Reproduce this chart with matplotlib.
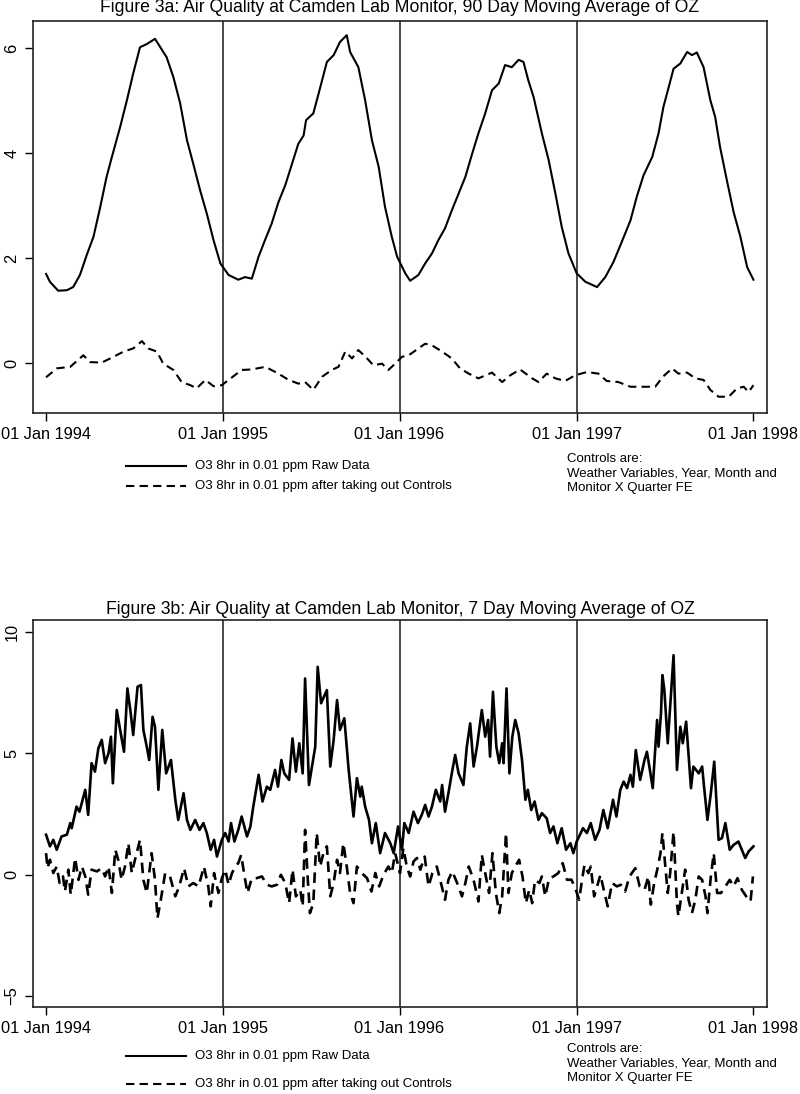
import matplotlib
matplotlib.use("Agg")
import matplotlib.pyplot as plt
import matplotlib.dates as mdates
import pandas as pd
import numpy as np

plt.rcParams['font.family'] = ['Liberation Sans', 'DejaVu Sans']

# ---------------- data (days since 01 Jan 1994) ----------------
# Panel a: 90 day moving average
a_raw_day = [0, 8, 25, 43, 56, 70, 84, 98, 112, 125, 136, 153, 167, 180, 194, 208, 225, 236, 249, 263,
             277, 291, 304, 318, 332, 346, 360, 377, 397, 411, 425, 439, 452, 466, 480, 494, 508, 521,
             532, 537, 552, 563, 580, 594, 607, 621, 628, 645, 659, 673, 687, 700, 714, 725, 742, 752,
             769, 783, 797, 810, 824, 838, 852, 866, 880, 893, 907, 921, 935, 948, 962, 976, 986, 996,
             1007, 1024, 1038, 1052, 1065, 1079, 1096, 1114, 1138, 1155, 1172, 1189, 1207, 1220, 1234,
             1252, 1265, 1275, 1286, 1296, 1310, 1324, 1334, 1344, 1358, 1372, 1382, 1392, 1406, 1420,
             1434, 1448, 1461]
a_raw_val = [1.70, 1.55, 1.38, 1.39, 1.45, 1.68, 2.06, 2.41, 2.98, 3.55, 3.93, 4.50, 5.01, 5.52, 6.02,
             6.08, 6.18, 6.02, 5.83, 5.45, 4.95, 4.25, 3.80, 3.30, 2.85, 2.34, 1.90, 1.68, 1.59, 1.64,
             1.61, 2.03, 2.34, 2.66, 3.07, 3.39, 3.80, 4.18, 4.34, 4.63, 4.76, 5.14, 5.74, 5.87, 6.12,
             6.25, 5.93, 5.64, 5.01, 4.25, 3.74, 2.98, 2.41, 2.03, 1.71, 1.57, 1.68, 1.90, 2.09, 2.34,
             2.57, 2.91, 3.23, 3.55, 3.99, 4.38, 4.76, 5.20, 5.33, 5.68, 5.64, 5.78, 5.74, 5.39, 5.07,
             4.38, 3.87, 3.23, 2.60, 2.09, 1.71, 1.55, 1.45, 1.64, 1.93, 2.31, 2.72, 3.17, 3.58, 3.93,
             4.38, 4.88, 5.26, 5.61, 5.71, 5.93, 5.87, 5.92, 5.64, 5.01, 4.69, 4.12, 3.49, 2.88, 2.41,
             1.83, 1.59]
a_adj_day = [0, 22, 50, 77, 91, 115, 139, 160, 180, 198, 211, 229, 242, 263, 280, 298, 311, 329, 346,
             363, 377, 404, 425, 453, 480, 501, 521, 535, 552, 570, 590, 604, 618, 632, 645, 663, 676,
             694, 707, 721, 735, 749, 769, 783, 797, 818, 838, 855, 873, 893, 921, 942, 959, 979, 1004,
             1017, 1034, 1052, 1072, 1093, 1117, 1141, 1158, 1182, 1207, 1234, 1258, 1275, 1293, 1306,
             1324, 1341, 1358, 1372, 1389, 1410, 1427, 1441, 1451, 1461]
a_adj_val = [-0.27, -0.10, -0.07, 0.15, 0.02, 0.01, 0.12, 0.22, 0.28, 0.42, 0.28, 0.22, -0.01, -0.13,
             -0.36, -0.42, -0.48, -0.32, -0.44, -0.42, -0.32, -0.13, -0.12, -0.07, -0.20, -0.32, -0.39,
             -0.36, -0.51, -0.26, -0.13, -0.07, 0.22, 0.09, 0.25, 0.09, -0.04, -0.01, -0.13, -0.01, 0.12,
             0.15, 0.28, 0.37, 0.34, 0.22, 0.09, -0.10, -0.20, -0.29, -0.18, -0.36, -0.23, -0.12, -0.29,
             -0.36, -0.20, -0.29, -0.34, -0.23, -0.17, -0.20, -0.34, -0.36, -0.45, -0.45, -0.45, -0.25,
             -0.10, -0.20, -0.18, -0.29, -0.32, -0.51, -0.64, -0.64, -0.48, -0.45, -0.55, -0.42]

# Panel b: 7 day moving average
b_raw_day = [0, 8, 15, 22, 32, 43, 50, 53, 63, 69, 81, 87, 94, 101, 108, 115, 122, 129, 134, 138, 146,
             153, 161, 168, 174, 180, 189, 196, 201, 208, 213, 220, 225, 232, 240, 248, 258, 267, 273,
             284, 291, 298, 308, 317, 325, 332, 340, 347, 353, 363, 370, 377, 382, 389, 397, 404, 415,
             422, 428, 439, 447, 456, 463, 473, 479, 486, 492, 502, 509, 516, 523, 530, 535, 543, 556,
             561, 568, 574, 580, 587, 594, 601, 607, 616, 625, 635, 642, 649, 652, 659, 667, 673, 681,
             690, 700, 711, 718, 727, 735, 740, 749, 759, 768, 776, 783, 790, 797, 805, 814, 818, 824,
             831, 838, 845, 852, 862, 869, 876, 883, 890, 900, 907, 913, 917, 923, 930, 936, 942, 945,
             951, 957, 963, 969, 976, 983, 990, 995, 1002, 1009, 1017, 1024, 1034, 1041, 1048, 1056,
             1065, 1074, 1083, 1089, 1096, 1109, 1117, 1125, 1134, 1143, 1151, 1160, 1171, 1178, 1186,
             1193, 1200, 1207, 1212, 1218, 1227, 1236, 1241, 1246, 1253, 1262, 1265, 1270, 1273, 1277,
             1284, 1289, 1296, 1303, 1310, 1315, 1322, 1332, 1337, 1348, 1355, 1359, 1366, 1373, 1380,
             1389, 1396, 1403, 1412, 1420, 1430, 1437, 1444, 1451, 1461]
b_raw_val = [1.65, 1.17, 1.44, 1.03, 1.58, 1.65, 2.13, 1.92, 2.81, 2.60, 3.50, 2.47, 4.60, 4.25, 5.21,
             5.56, 4.60, 5.01, 5.69, 3.77, 6.79, 5.97, 5.07, 7.68, 6.79, 5.76, 7.75, 7.82, 5.97, 5.28,
             4.73, 6.51, 6.10, 3.50, 5.97, 4.18, 4.73, 3.09, 2.26, 3.36, 2.26, 1.85, 2.26, 1.85, 2.13,
             1.72, 1.03, 1.44, 0.75, 1.44, 1.72, 1.37, 2.13, 1.37, 1.85, 2.40, 1.58, 1.99, 2.81, 4.12,
             3.02, 3.63, 3.50, 4.32, 3.63, 4.73, 4.18, 3.91, 5.62, 4.25, 5.42, 4.18, 8.09, 3.70, 5.28,
             8.57, 7.07, 7.34, 7.61, 4.46, 5.56, 7.20, 5.97, 6.45, 4.32, 2.40, 3.98, 3.22, 3.63, 2.81,
             2.26, 1.30, 2.13, 0.89, 1.72, 1.30, 0.89, 1.99, 1.03, 2.13, 1.72, 2.60, 2.13, 2.47, 2.88,
             2.40, 2.81, 3.50, 3.02, 3.70, 2.60, 3.36, 4.18, 4.94, 4.18, 3.70, 5.28, 6.24, 4.46, 5.28,
             6.79, 5.69, 6.38, 4.87, 7.54, 5.28, 4.60, 5.42, 4.60, 7.68, 4.18, 5.69, 6.38, 5.83, 4.73,
             3.09, 3.50, 2.67, 3.02, 2.26, 2.54, 2.33, 1.72, 1.99, 1.30, 1.92, 1.03, 1.30, 0.89, 1.37,
             1.92, 1.72, 2.13, 1.44, 1.85, 2.67, 1.92, 3.09, 2.40, 3.50, 3.84, 3.57, 4.12, 3.63, 5.14,
             3.91, 4.73, 5.07, 4.46, 3.57, 6.38, 5.28, 6.65, 8.23, 7.61, 5.42, 6.93, 9.05, 4.32, 6.10,
             5.42, 6.31, 3.57, 4.46, 4.18, 4.46, 3.63, 2.26, 3.36, 4.66, 1.44, 1.51, 2.13, 1.03, 1.23,
             1.37, 1.03, 0.69, 0.96, 1.17]
b_adj_day = [0, 3, 8, 15, 22, 28, 35, 39, 46, 51, 60, 67, 74, 81, 87, 94, 105, 115, 122, 129, 136, 143,
             149, 156, 163, 170, 177, 187, 194, 201, 208, 218, 225, 230, 237, 246, 256, 267, 275, 285,
             294, 304, 315, 326, 335, 340, 347, 356, 363, 370, 377, 384, 391, 397, 403, 410, 416, 425,
             435, 446, 456, 466, 477, 485, 494, 502, 509, 516, 525, 530, 535, 541, 545, 552, 559, 566,
             573, 580, 587, 594, 601, 607, 614, 621, 628, 635, 642, 652, 663, 672, 680, 688, 697, 707,
             714, 721, 731, 738, 745, 752, 759, 766, 773, 782, 790, 798, 807, 814, 824, 831, 839, 849,
             859, 866, 873, 883, 893, 900, 907, 915, 922, 929, 936, 942, 950, 955, 962, 969, 977, 984,
             991, 998, 1004, 1010, 1019, 1024, 1031, 1039, 1048, 1058, 1067, 1076, 1085, 1093, 1101,
             1107, 1112, 1120, 1125, 1132, 1138, 1145, 1151, 1160, 1169, 1179, 1187, 1196, 1205, 1217,
             1226, 1236, 1244, 1249, 1256, 1263, 1269, 1273, 1279, 1284, 1289, 1296, 1303, 1306, 1313,
             1320, 1327, 1334, 1341, 1348, 1355, 1362, 1366, 1373, 1379, 1386, 1394, 1403, 1412, 1420,
             1428, 1437, 1446, 1455, 1460]
b_adj_val = [0.89, 0.27, 0.62, 0.07, 0.34, -0.34, -0.07, -0.69, 0.21, -0.82, 0.69, -0.21, 0.34, -0.07,
             -0.82, 0.21, 0.14, 0.27, -0.07, 0.34, -0.75, 1.03, 0.62, -0.21, 0.34, 1.30, 0.07, 0.89,
             1.44, -0.21, -0.75, 0.89, -0.21, -1.80, -1.03, 0.07, -0.07, -0.89, -0.48, 0.27, -0.48,
             -0.34, -0.48, 0.34, -0.48, -1.30, 0.07, -0.75, -0.15, 0.21, -0.41, 0.07, 0.34, 0.48, 0.82,
             -0.07, -0.75, -0.14, -0.14, -0.07, -0.41, -0.48, -0.41, 0.00, -0.34, -1.17, 0.21, -0.89,
             -0.62, -1.30, 1.85, -0.34, -1.58, -1.17, 1.72, 0.34, 0.89, 1.17, -0.89, -0.34, 0.62, 0.07,
             1.30, 0.34, -0.75, -1.17, 0.34, 0.07, -0.14, -0.69, 0.07, -0.48, 0.00, 0.34, 0.07, 0.89,
             0.07, 1.10, 0.34, -0.07, 0.55, 0.69, 0.21, 0.75, -0.48, 0.07, 0.34, -0.21, -1.03, -0.21,
             0.14, -0.34, -0.89, -0.34, 0.34, -0.21, -1.10, 0.82, 0.07, -0.75, 0.89, -0.75, -1.58,
             -0.89, 1.72, -0.75, 0.07, 0.34, 0.62, -0.07, -1.17, -0.62, -1.17, -0.21, -0.34, -0.07,
             -0.89, -0.14, -0.07, 0.07, 0.48, -0.21, -0.20, -0.55, -1.03, -0.21, 0.41, 0.07, 0.34,
             -0.89, -0.48, 0.00, -0.55, -1.30, -0.34, -0.48, -0.41, -0.69, -0.07, 0.27, -0.48, -0.62,
             -0.07, -1.23, -0.34, 0.27, 0.89, 1.72, 0.34, -0.75, 0.07, 1.78, -1.17, -1.71, -0.75, 0.21,
             -1.03, -1.58, -1.03, -0.07, -0.21, -0.89, -1.58, -0.07, 0.89, -0.75, -0.75, -0.48, -0.21,
             -0.48, -0.14, -0.62, -0.89, -1.10, -0.07]

year_ticks = ['1994-01-01', '1995-01-01', '1996-01-01', '1997-01-01', '1998-01-01']
year_lines = ['1995-01-01', '1996-01-01', '1997-01-01']

titles = ["Figure 3a: Air Quality at Camden Lab Monitor, 90 Day Moving Average of OZ",
          "Figure 3b: Air Quality at Camden Lab Monitor, 7 Day Moving Average of OZ"]
legend_labels = ["O3 8hr in 0.01 ppm Raw Data", "O3 8hr in 0.01 ppm after taking out Controls"]
note_text = "Controls are:\nWeather Variables, Year, Month and\nMonitor X Quarter FE"
a_yticks = [0, 2, 4, 6]
b_yticks = [-5, 0, 5, 10]

start = pd.Timestamp('1994-01-01')


def to_dates(days):
    return start + pd.to_timedelta(np.asarray(days), unit='D')


fig = plt.figure(figsize=(8.0, 10.94), dpi=100)
W, H = 800.0, 1094.0


def make_axes(top_px, bottom_px):
    left, right = 32.5, 767.0
    return fig.add_axes([left / W, 1 - bottom_px / H, (right - left) / W, (bottom_px - top_px) / H])


ax1 = make_axes(21, 413)
ax2 = make_axes(620, 1007)

DASH = (4, 2.5)
panels = [
    (ax1, a_raw_day, a_raw_val, a_adj_day, a_adj_val, a_yticks, (-0.95, 6.52), 1.5, 8),
    (ax2, b_raw_day, b_raw_val, b_adj_day, b_adj_val, b_yticks, (-5.45, 10.5), 1.9, 609),
]

for i, (ax, rd, rv, ad, av, yt, yl, lw, title_y) in enumerate(panels):
    ax.plot(to_dates(rd), rv, color='black', lw=lw, solid_joinstyle='round')
    ax.plot(to_dates(ad), av, color='black', lw=lw, dashes=DASH)
    for d in year_lines:
        ax.axvline(pd.Timestamp(d), color='#3a3a3a', lw=1.3, zorder=0)
    ax.set_xlim(start - pd.Timedelta(days=28), pd.Timestamp('1998-01-01') + pd.Timedelta(days=28))
    ax.set_ylim(*yl)
    ax.set_xticks([pd.Timestamp(d) for d in year_ticks])
    ax.xaxis.set_major_formatter(mdates.DateFormatter('%d %b %Y'))
    ax.set_yticks(yt)
    ax.tick_params(axis='both', direction='out', length=6, width=1.0, labelsize=11.8, colors='black')
    ax.tick_params(axis='x', pad=4)
    for lab in ax.get_yticklabels():
        lab.set_rotation(90)
        lab.set_va('center')
    for sp in ax.spines.values():
        sp.set_linewidth(1.2)
        sp.set_color('#222222')
    fig.text(0.5, 1 - title_y / H, titles[i], ha='center', va='center', fontsize=12.7)

# legends / notes under each panel
legend_rows = [(466, 486, 460), (1056, 1084, 1050)]
for (y1, y2, ynote) in legend_rows:
    for yy, lab, dashed in [(y1, legend_labels[0], False), (y2, legend_labels[1], True)]:
        ln = plt.Line2D([126 / W, 186 / W], [1 - yy / H, 1 - yy / H], color='black', lw=1.5)
        if dashed:
            ln.set_dashes(DASH)
        fig.add_artist(ln)
        fig.text(195 / W, 1 - yy / H, lab, ha='left', va='center', fontsize=9.5)
    fig.text(567 / W, 1 - (ynote - 7) / H, note_text, ha='left', va='top', fontsize=9.5, linespacing=1.3)

fig.savefig('out.png', dpi=100)
